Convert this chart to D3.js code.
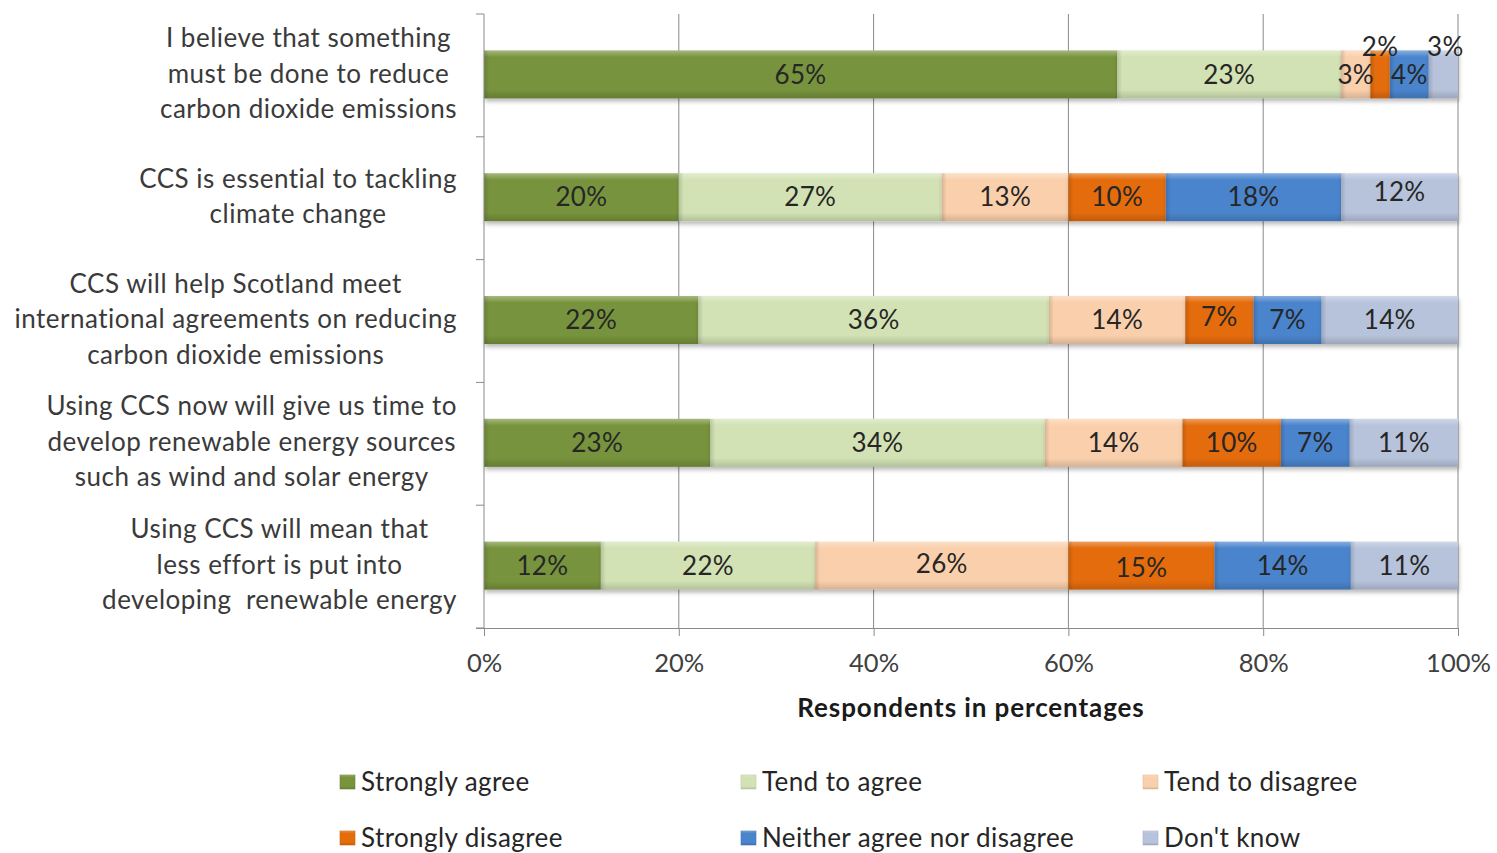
<!DOCTYPE html>
<html>
<head>
<meta charset="utf-8">
<script src="https://cdn.jsdelivr.net/npm/d3@7"></script>
<style>
  html, body { margin: 0; padding: 0; background: #fff; }
  svg { display: block; }
  text { font-family: Lato, "Noto Sans", sans-serif; white-space: pre; }
</style>
</head>
<body>
<svg id="chart" width="1497" height="853"></svg>
<script>
// Survey statements (one per bar), each split into display lines
const statements = [
  ["I believe that something", "must be done to reduce", "carbon dioxide emissions"],
  ["CCS is essential to tackling", "climate change"],
  ["CCS will help Scotland meet", "international agreements on reducing", "carbon dioxide emissions"],
  ["Using CCS now will give us time to", "develop renewable energy sources", "such as wind and solar energy"],
  ["Using CCS will mean that", "less effort is put into", "developing  renewable energy"]
];

// Response categories, in stacking order
const responses = ["Strongly agree", "Tend to agree", "Tend to disagree",
                   "Strongly disagree", "Neither agree nor disagree", "Don't know"];

// Percentage of respondents per response, one value per statement
const stronglyAgree    = [65, 20, 22, 23, 12];
const tendToAgree      = [23, 27, 36, 34, 22];
const tendToDisagree   = [3, 13, 14, 14, 26];
const stronglyDisagree = [2, 10, 7, 10, 15];
const neither          = [4, 18, 7, 7, 14];
const dontKnow         = [3, 12, 14, 11, 11];

const xTicks = [0, 0.2, 0.4, 0.6, 0.8, 1.0];

const colors = ["#77933C", "#D2E2B4", "#FAD0AC", "#E46C0A", "#4A84CC", "#B7C3DB"];

// Small nudges for a few crowded value labels [row, series, dx, dy]
const labelNudges = [
  [0, 3, 0, -28], [0, 5, 2, -28], [1, 5, 0, -5], [2, 3, 0, -3],
  [4, 2, 0, -2], [4, 3, 0, 2]
];

const seriesValues = [stronglyAgree, tendToAgree, tendToDisagree, stronglyDisagree, neither, dontKnow];
const rows = statements.map((s, i) => {
  const r = { idx: i };
  responses.forEach((k, j) => { r[k] = seriesValues[j][i]; });
  return r;
});

const svg = d3.select("#chart");
const defs = svg.append("defs");

// Bevelled look: lighter top edge, darker bottom edge
colors.forEach((c, i) => {
  const g = defs.append("linearGradient")
    .attr("id", "grad" + i).attr("x1", 0).attr("y1", 0).attr("x2", 0).attr("y2", 1);
  const base = d3.color(c);
  const light = d3.interpolateRgb(c, "#ffffff")(0.35);
  const dark = base.darker(0.45);
  g.append("stop").attr("offset", "0%").attr("stop-color", light);
  g.append("stop").attr("offset", "14%").attr("stop-color", c);
  g.append("stop").attr("offset", "82%").attr("stop-color", c);
  g.append("stop").attr("offset", "100%").attr("stop-color", dark);
});
// Side bevel overlay
const side = defs.append("linearGradient").attr("id", "sideBevel")
  .attr("x1", 0).attr("y1", 0).attr("x2", 1).attr("y2", 0);
side.append("stop").attr("offset", "0%").attr("stop-color", "#000").attr("stop-opacity", 0.14);
side.append("stop").attr("offset", "100%").attr("stop-color", "#000").attr("stop-opacity", 0);

const shadow = defs.append("filter").attr("id", "shadow")
  .attr("x", "-5%").attr("y", "-20%").attr("width", "110%").attr("height", "160%");
shadow.append("feDropShadow").attr("dx", 1).attr("dy", 3).attr("stdDeviation", 2)
  .attr("flood-color", "#000").attr("flood-opacity", 0.28);

const plotLeft = 484, plotRight = 1458, plotTop = 14, plotBottom = 628;

const x = d3.scaleLinear().domain([0, 1]).range([plotLeft, plotRight]);
const y = d3.scaleBand().domain(d3.range(statements.length)).range([plotTop, plotBottom]).padding(0);
const barH = 48;

// Gridlines
svg.append("g").selectAll("line").data(xTicks.slice(1)).join("line")
  .attr("x1", d => x(d)).attr("x2", d => x(d))
  .attr("y1", plotTop).attr("y2", plotBottom)
  .attr("stroke", "#8a8a8a").attr("stroke-width", 1);

// Stacked, normalised to 100%
const stack = d3.stack().keys(responses).offset(d3.stackOffsetExpand);
const series = stack(rows);

const barG = svg.append("g");
series.forEach((s, si) => {
  const g = barG.append("g").attr("filter", "url(#shadow)");
  g.selectAll("rect").data(s).join("rect")
    .attr("x", d => x(d[0]))
    .attr("width", d => x(d[1]) - x(d[0]))
    .attr("y", (d, i) => y(i) + y.bandwidth() / 2 - barH / 2 - 1)
    .attr("height", barH)
    .attr("fill", `url(#grad${si})`);
});
// side bevel strips
series.forEach((s) => {
  barG.append("g").selectAll("rect").data(s).join("rect")
    .attr("x", d => x(d[0]))
    .attr("width", d => Math.min(5, x(d[1]) - x(d[0])))
    .attr("y", (d, i) => y(i) + y.bandwidth() / 2 - barH / 2 - 1)
    .attr("height", barH)
    .attr("fill", "url(#sideBevel)");
});

// Value labels
const nudge = {};
labelNudges.forEach(([r, s, dx, dy]) => { nudge[r + "_" + s] = [dx, dy]; });
const labG = svg.append("g");
series.forEach((s, si) => {
  s.forEach((d, i) => {
    const n = nudge[i + "_" + si] || [0, 0];
    labG.append("text")
      .attr("x", (x(d[0]) + x(d[1])) / 2 + n[0])
      .attr("y", y(i) + y.bandwidth() / 2 - 1 + n[1])
      .attr("dy", "0.35em")
      .attr("text-anchor", "middle")
      .attr("font-size", 26)
      .attr("letter-spacing", "0.3px")
      .attr("fill", "#262626")
      .text(seriesValues[si][i] + "%");
  });
});

// Axes
const xAxis = d3.axisBottom(x).tickValues(xTicks).tickFormat(d3.format(".0%")).tickSize(8).tickPadding(18);
const xg = svg.append("g").attr("transform", `translate(0,${plotBottom})`).call(xAxis);
xg.select(".domain").attr("stroke", "#8a8a8a").attr("d", `M${plotLeft - 8},0.5H${plotRight}`);
xg.selectAll(".tick line").attr("stroke", "#8a8a8a");
xg.selectAll(".tick text").attr("font-size", 25.5).attr("fill", "#404040")
  .attr("font-family", "Lato, sans-serif");

const yg = svg.append("g");
yg.append("line").attr("x1", plotLeft).attr("x2", plotLeft)
  .attr("y1", plotTop).attr("y2", plotBottom).attr("stroke", "#8a8a8a");
yg.selectAll("line.tk").data(d3.range(statements.length + 1)).join("line")
  .attr("class", "tk")
  .attr("x1", plotLeft - 8).attr("x2", plotLeft)
  .attr("y1", d => plotTop + d * y.step()).attr("y2", d => plotTop + d * y.step())
  .attr("stroke", "#8a8a8a");

// Category labels: each block right-aligned, its lines centred
const lineH = 35.5;
const catG = svg.append("g");
statements.forEach((lines, i) => {
  const g = catG.append("g");
  const texts = lines.map(l => g.append("text").attr("font-size", 26)
    .attr("letter-spacing", "0.5px").attr("fill", "#3a3a3a").text(l));
  const widths = texts.map(t => t.node().getComputedTextLength());
  const maxW = d3.max(widths);
  const cx = 457 - maxW / 2;
  const cy = y(i) + y.bandwidth() / 2 - 2;
  texts.forEach((t, k) => {
    t.attr("x", cx).attr("text-anchor", "middle")
      .attr("y", cy + (k - (lines.length - 1) / 2) * lineH)
      .attr("dy", "0.35em");
  });
});

// Axis title
svg.append("text").attr("x", 971).attr("y", 708).attr("dy", "0.35em")
  .attr("text-anchor", "middle").attr("font-size", 26).attr("font-weight", "bold")
  .attr("letter-spacing", "0.9px")
  .attr("fill", "#1a1a1a").text("Respondents in percentages");

// Legend, 3 columns x 2 rows
const legX = [340, 741, 1143], legY = [782, 838];
const leg = svg.append("g");
responses.forEach((r, i) => {
  const lx = legX[i % 3], ly = legY[Math.floor(i / 3)];
  leg.append("rect").attr("x", lx).attr("y", ly - 7).attr("width", 15).attr("height", 14)
    .attr("fill", `url(#grad${i})`).attr("stroke", d3.color(colors[i]).darker(0.3)).attr("stroke-width", 0.6);
  leg.append("text").attr("x", lx + 21).attr("y", ly).attr("dy", "0.35em")
    .attr("font-size", 26).attr("letter-spacing", "0.4px").attr("fill", "#262626").text(r);
});
</script>
</body>
</html>
